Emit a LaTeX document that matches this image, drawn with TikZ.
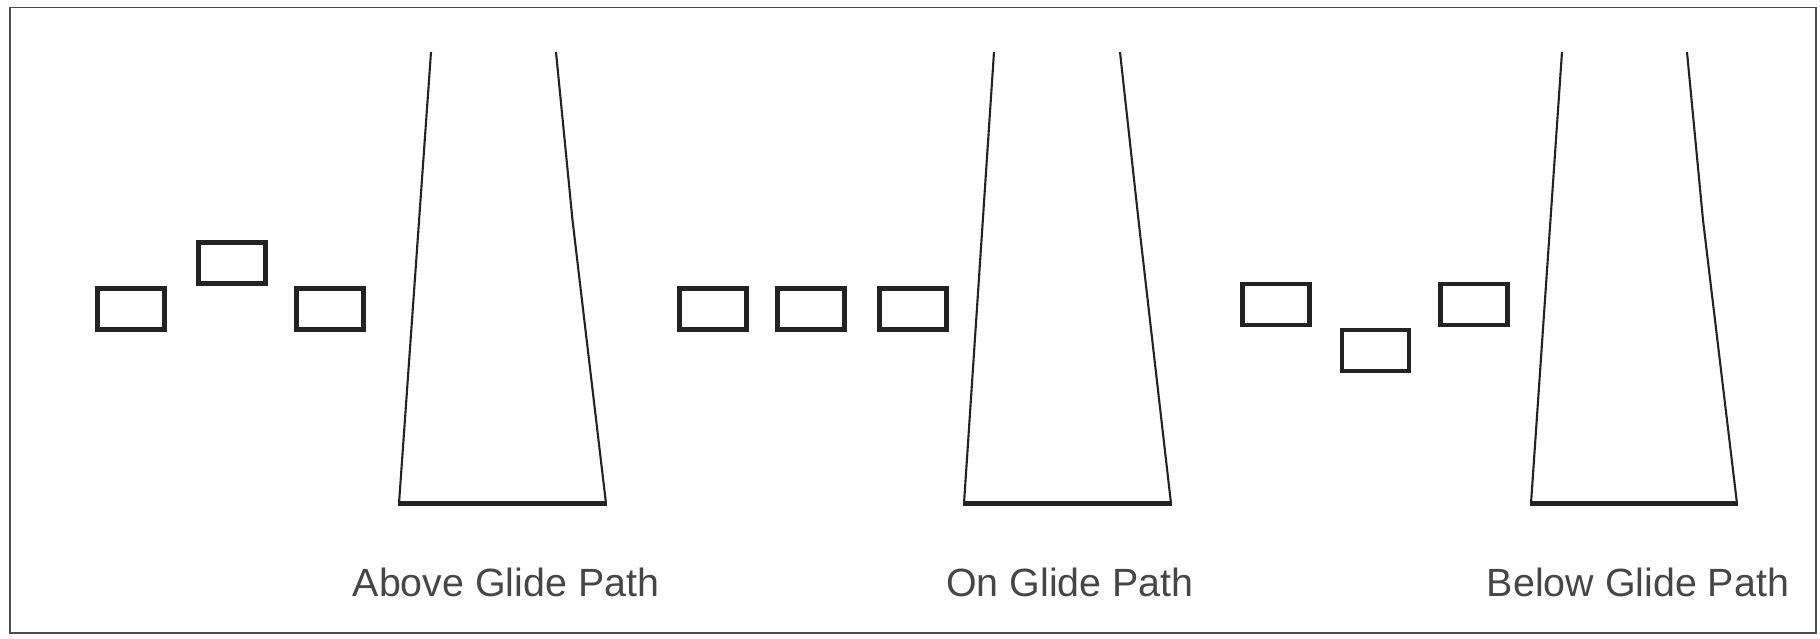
\documentclass[tikz,border=0pt]{standalone}
\usepackage{fontspec}
\setmainfont{Liberation Sans}
\usetikzlibrary{positioning}
\definecolor{inkgrey}{RGB}{35,35,35}
\definecolor{labgrey}{RGB}{70,70,70}
\tikzset{
  lightbox/.style={draw=inkgrey,line width=1.2pt,minimum width=0.67cm,minimum height=0.41cm,inner sep=0pt},
  edge/.style={draw=inkgrey,line width=0.6pt},
  threshold/.style={draw=inkgrey,line width=1.5pt},
  caption/.style={font=\fontsize{11.2}{13}\selectfont,text=labgrey,anchor=base,inner sep=0pt}
}
\begin{document}
\begin{tikzpicture}[x=0.01cm,y=-0.01cm]
  \useasboundingbox (0,0) rectangle (1820,638);
  \draw[draw=black!70,line width=0.55pt] (10,7.5) rectangle (1816,633);
  % above glide path
  \node[lightbox] (a1) at (131,309) {};
  \node[lightbox] (a2) at (232,263) {};
  \node[lightbox] (a3) at (330,309) {};
  \draw[edge] (431,52) -- (399,503.5);
  \draw[edge] (556,52) -- (572.5,220) -- (606,503.5);
  \draw[threshold] (398,503.5) -- (607,503.5);
  \node[caption] (above) at (506,596) {Above Glide Path};
  % on glide path
  \node[lightbox] (b1) at (713,309) {};
  \node[lightbox] (b2) at (811,309) {};
  \node[lightbox] (b3) at (913,309) {};
  \draw[edge] (994,52) -- (964,503.5);
  \draw[edge] (1120,52) -- (1138.5,220) -- (1171,503.5);
  \draw[threshold] (963,503.5) -- (1172,503.5);
  \node[caption] (on) at (1070,596) {On Glide Path};
  % below glide path
  \node[lightbox] (c1) at (1276,304.5) {};
  \node[lightbox] (c2) at (1375.5,350.5) {};
  \node[lightbox] (c3) at (1474,304.5) {};
  \draw[edge] (1562,52) -- (1531,503.5);
  \draw[edge] (1687,52) -- (1703,220) -- (1737,503.5);
  \draw[threshold] (1530,503.5) -- (1738,503.5);
  \node[caption] (below) at (1638,596) {Below Glide Path};
\end{tikzpicture}
\end{document}
